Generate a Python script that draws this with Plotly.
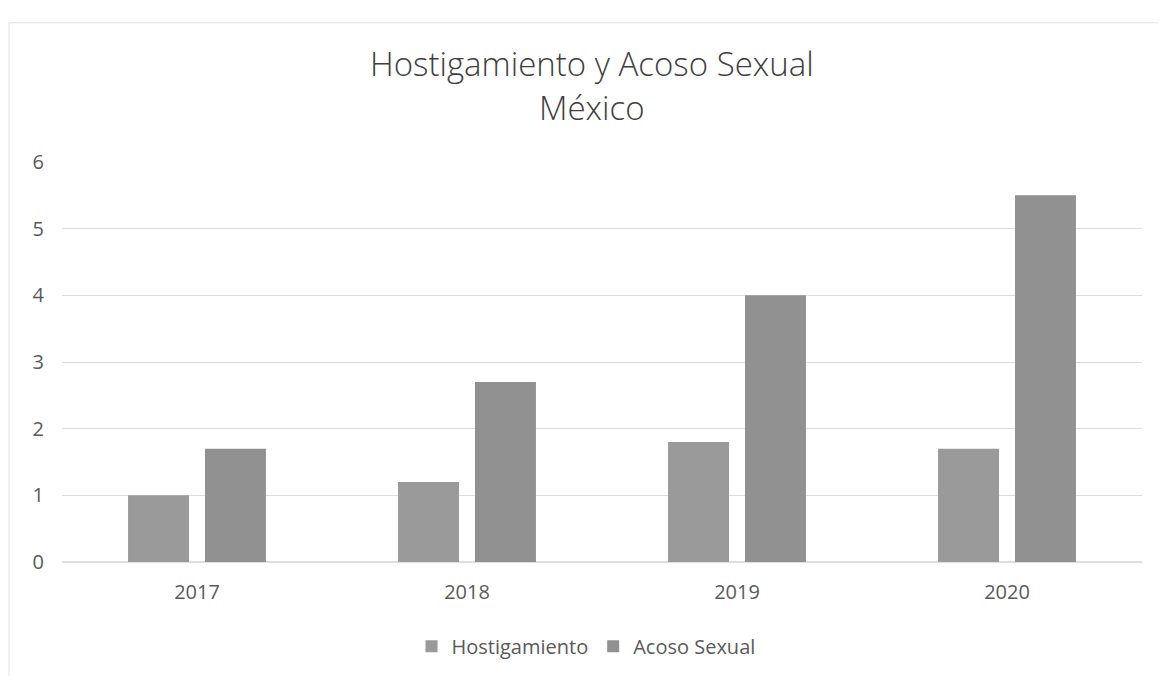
import plotly.graph_objects as go

years = ["2017", "2018", "2019", "2020"]
hostigamiento = [1.0, 1.2, 1.8, 1.7]
acoso_sexual = [1.7, 2.7, 4.0, 5.5]
series_names = ["Hostigamiento", "Acoso Sexual"]
title_lines = ["Hostigamiento y Acoso Sexual", "México"]

FONT = "Open Sans"
TXT = "#5a5a5a"

# screen geometry (page has an 8px body offset)
PL, PR, PT, PB = 62, 1142, 162, 570
PW, PH = PR - PL, PB - PT


def px(sx):
    return (sx - PL) / PW


def py(sy):
    return (PB - sy) / PH


fig = go.Figure()
fig.add_trace(go.Bar(x=years, y=hostigamiento, name=series_names[0],
                     marker=dict(color="#9a9a9a", line=dict(width=0))))
fig.add_trace(go.Bar(x=years, y=acoso_sexual, name=series_names[1],
                     marker=dict(color="#919191", line=dict(width=0))))

W, H = 1150, 670
fig.update_layout(
    width=W, height=H,
    paper_bgcolor="white", plot_bgcolor="white",
    margin=dict(l=PL - 8, r=W - (PR - 8), t=PT - 8, b=H - (PB - 8)),
    barmode="group", bargap=0.43, bargroupgap=0.208,
    font=dict(family=FONT, color=TXT, size=20),
    showlegend=True,
    legend=dict(orientation="h", x=px(586), xanchor="center", y=py(656), yanchor="middle",
                font=dict(size=20, color=TXT), itemwidth=30,
                itemsizing="constant", bgcolor="rgba(0,0,0,0)"),
    xaxis=dict(showgrid=False, showline=False, ticks="", ticklabelstandoff=16,
               tickfont=dict(size=20, color=TXT)),
    yaxis=dict(range=[0, 6], dtick=1, showgrid=True, gridcolor="#dedede",
               gridwidth=1, zeroline=True, zerolinecolor="#dedede",
               showline=False, ticks="", ticklabelstandoff=17,
               tickfont=dict(size=20, color=TXT)),
    annotations=[
        dict(text=title_lines[0], xref="paper", yref="paper", x=px(592), y=py(62),
             xanchor="center", yanchor="middle", showarrow=False,
             font=dict(family=FONT, size=33, color="#404040", weight=300)),
        dict(text=title_lines[1], xref="paper", yref="paper", x=px(592), y=py(106),
             xanchor="center", yanchor="middle", showarrow=False,
             font=dict(family=FONT, size=33, color="#404040", weight=300)),
    ],
    shapes=[
        dict(type="line", xref="paper", yref="paper", x0=px(9), x1=px(1166),
             y0=py(20), y1=py(20), line=dict(color="#e2e2e2", width=1)),
        dict(type="line", xref="paper", yref="paper", x0=px(9), x1=px(9),
             y0=py(20), y1=py(686), line=dict(color="#e2e2e2", width=1)),
    ],
)

fig.write_html("out.html")
